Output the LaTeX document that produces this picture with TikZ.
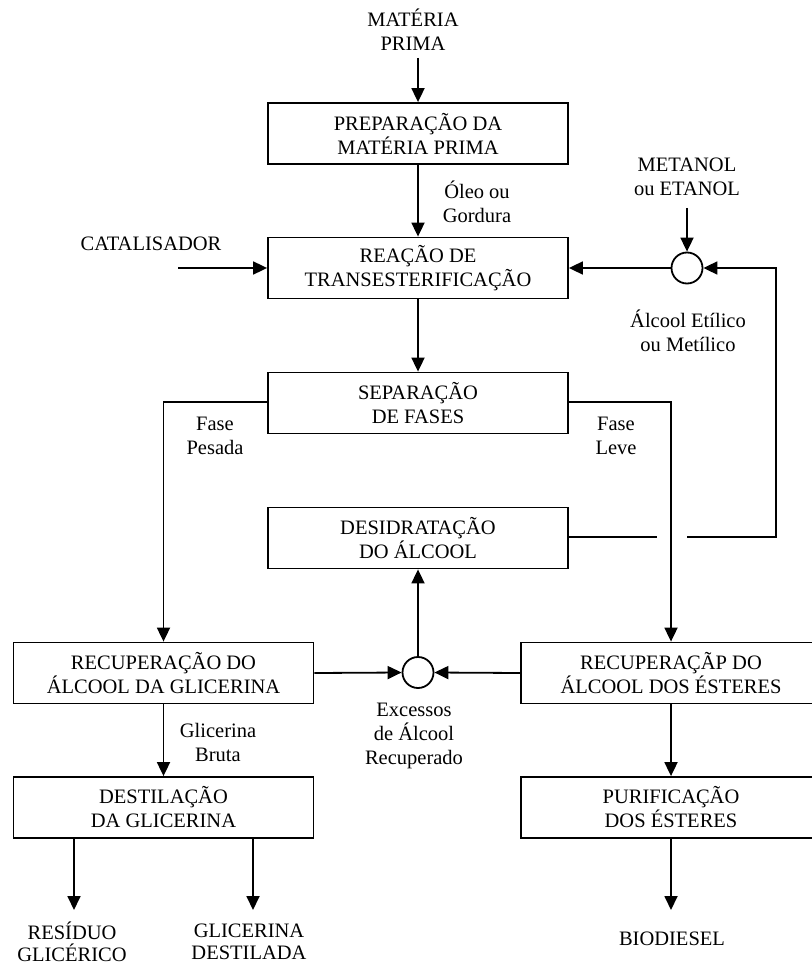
\documentclass[tikz,border=0pt]{standalone}
\usepackage{fontspec}
\setmainfont{Liberation Serif}
\usetikzlibrary{arrows.meta}
\begin{document}
\begin{tikzpicture}[x=1pt,y=-1pt,
  every node/.style={font=\fontsize{20.5}{24}\selectfont, align=center, inner sep=0pt},
  bottomtext/.style={font=\fontsize{20.5}{22}\selectfont},
  procbox/.style={draw, line width=1.8pt, minimum width=300pt, minimum height=61pt},
  junction/.style={draw, line width=1.8pt, circle, minimum size=31pt},
  flow/.style={line width=1.8pt},
  arr/.style={flow, -{Triangle[length=14pt,width=13pt]}}]
\useasboundingbox (0,0) rectangle (811,965);
% texts
\node (mp) at (413,30) {MATÉRIA\\PRIMA};
\node (oleo) at (477,202) {Óleo ou\\Gordura};
\node (cat) at (151,244) {CATALISADOR};
\node (met) at (687,177) {METANOL\\ou ETANOL};
\node (alc) at (688,331) {Álcool Etílico\\ou Metílico};
\node (fp) at (215,436) {Fase\\Pesada};
\node (fl) at (616,436) {Fase\\Leve};
\node (gb) at (218,742) {Glicerina\\Bruta};
\node (exc) at (414,736) {Excessos\\de Álcool\\Recuperado};
\node[bottomtext] (res) at (72,942) {RESÍDUO\\GLICÉRICO};
\node[bottomtext] (gd) at (249,942) {GLICERINA\\DESTILADA};
\node (bio) at (672,939) {BIODIESEL};
% boxes
\node[procbox] (prep) at (418,133.5) {PREPARAÇÃO DA\\MATÉRIA PRIMA};
\node[procbox] (reac) at (418,268) {REAÇÃO DE\\TRANSESTERIFICAÇÃO};
\node[procbox] (sep) at (418,403) {SEPARAÇÃO\\DE FASES};
\node[procbox] (des) at (418,538) {DESIDRATAÇÃO\\DO ÁLCOOL};
\node[procbox] (recA) at (163.5,673) {RECUPERAÇÃO DO\\ÁLCOOL DA GLICERINA};
\node[procbox] (recE) at (671,673) {RECUPERAÇÃP DO\\ÁLCOOL DOS ÉSTERES};
\node[procbox] (dest) at (163.5,807.5) {DESTILAÇÃO\\DA GLICERINA};
\node[procbox] (pur) at (671,807.5) {PURIFICAÇÃO\\DOS ÉSTERES};
\node[junction] (c1) at (687,268) {};
\node[junction] (c2) at (418,672.5) {};
% free ends
\coordinate (mpS) at (418,58);
\coordinate (catE) at (178,268);
\coordinate (metS) at (687,208);
\coordinate (gapL) at (657,537);
\coordinate (gapR) at (687,537);
\coordinate (corner) at (776,537);
\coordinate (resN) at (74,910);
\coordinate (gdN) at (253,910);
\coordinate (bioN) at (671,910);
% connectors
\draw[arr] (mpS) -- (prep.north);
\draw[arr] (prep.south) -- (reac.north);
\draw[arr] (catE) -- (reac.west);
\draw[arr] (metS) -- (c1.north);
\draw[arr] (c1.west) -- (reac.east);
\draw[flow] (des.east |- gapL) -- (gapL);
\draw[arr] (gapR) -- (corner) |- (c1.east);
\draw[arr] (reac.south) -- (sep.north);
\draw[arr] (sep.west |- 0,402) -| (recA.north);
\draw[arr] (sep.east |- 0,402) -| (recE.north);
\draw[arr] (recA.east) -- (c2.west);
\draw[arr] (recE.west) -- (c2.east);
\draw[arr] (c2.north) -- (des.south);
\draw[arr] (recA.south) -- (dest.north);
\draw[arr] (recE.south) -- (pur.north);
\draw[arr] (dest.south -| resN) -- (resN);
\draw[arr] (dest.south -| gdN) -- (gdN);
\draw[arr] (pur.south) -- (bioN);
\end{tikzpicture}
\end{document}
